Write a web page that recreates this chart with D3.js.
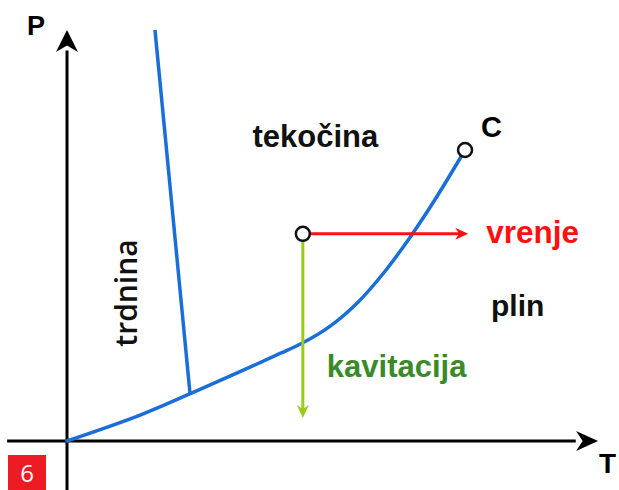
<!DOCTYPE html>
<html>
<head>
<meta charset="utf-8">
<script src="https://cdn.jsdelivr.net/npm/d3@7"></script>
<style>
  html, body { margin: 0; padding: 0; background: #fff; }
  svg { display: block; }
  .bold { font-family: "Liberation Sans", Arial, sans-serif; font-weight: bold; }
</style>
</head>
<body>
<svg width="619" height="490"></svg>
<script>
// phase diagram data, T and P in arbitrary units (0..100)
const vaporCurve = [
  {t: 0, p: 0}, {t: 13.8, p: 6.3}, {t: 23.6, p: 11.7}, {t: 32.0, p: 16.5},
  {t: 40.2, p: 21.3}, {t: 44.5, p: 23.9}, {t: 49.6, p: 27.9}, {t: 55.0, p: 33.9},
  {t: 60.0, p: 41.3}, {t: 64.9, p: 49.9}, {t: 69.8, p: 59.5}, {t: 75.1, p: 70.8}
];
const meltingCurve = [{t: 23.2, p: 11.7}, {t: 16.6, p: 100}];
const criticalPoint = {t: 75.1, p: 70.8};
const statePoint = {t: 44.5, p: 50.4};
const boilingEnd = 75.7;     // T where red arrow ends
const cavitationEnd = 5.6;   // P where green arrow ends
const regionLabels = [
  {text: 'tekočina', t: 35, p: 71.5, size: 31},
  {text: 'plin', t: 80, p: 30.4, size: 30},
];

const svg = d3.select('svg');

const x = d3.scaleLinear().domain([0, 100]).range([67, 597]);
const y = d3.scaleLinear().domain([0, 100]).range([441, 30]);

/* axes: plain lines with arrow heads */
svg.append('line')
  .attr('x1', x(-11.3)).attr('y1', y(0))
  .attr('x2', x(96)).attr('y2', y(0))
  .attr('stroke', '#000').attr('stroke-width', 3);
svg.append('line')
  .attr('x1', x(0)).attr('y1', y(-12))
  .attr('x2', x(0)).attr('y2', y(95))
  .attr('stroke', '#000').attr('stroke-width', 3);

function arrowHead(tipX, tipY, dir, len, half, color) {
  // dir: 'right' | 'up' | 'down'
  let pts;
  if (dir === 'right') {
    pts = [[tipX, tipY], [tipX - len, tipY - half], [tipX - len * 0.7, tipY], [tipX - len, tipY + half]];
  } else if (dir === 'up') {
    pts = [[tipX, tipY], [tipX - half, tipY + len], [tipX, tipY + len * 0.7], [tipX + half, tipY + len]];
  } else {
    pts = [[tipX, tipY], [tipX - half, tipY - len], [tipX, tipY - len * 0.7], [tipX + half, tipY - len]];
  }
  svg.append('path')
    .attr('d', 'M' + pts.map(p => p.join(',')).join('L') + 'Z')
    .attr('fill', color);
}
arrowHead(x(100.2), y(0), 'right', 22, 10, '#000');
arrowHead(x(0), y(100), 'up', 22, 11, '#000');

/* phase boundaries */
const line = d3.line().x(d => x(d.t)).y(d => y(d.p));
svg.append('path')
  .datum(meltingCurve)
  .attr('d', line)
  .attr('fill', 'none').attr('stroke', '#1a6ed8').attr('stroke-width', 3.5);
svg.append('path')
  .datum(vaporCurve)
  .attr('d', line.curve(d3.curveCatmullRom))
  .attr('fill', 'none').attr('stroke', '#1a6ed8').attr('stroke-width', 3.5)
  .attr('stroke-linecap', 'round');

/* boiling (red) and cavitation (green) arrows */
svg.append('line')
  .attr('x1', x(statePoint.t)).attr('y1', y(statePoint.p))
  .attr('x2', x(boilingEnd) - 8).attr('y2', y(statePoint.p))
  .attr('stroke', '#ff1010').attr('stroke-width', 3);
arrowHead(x(boilingEnd), y(statePoint.p), 'right', 13, 6, '#ff1010');

svg.append('line')
  .attr('x1', x(statePoint.t)).attr('y1', y(statePoint.p))
  .attr('x2', x(statePoint.t)).attr('y2', y(cavitationEnd) - 8)
  .attr('stroke', '#99cc1a').attr('stroke-width', 3);
arrowHead(x(statePoint.t), y(cavitationEnd), 'down', 13, 6, '#99cc1a');

/* points */
[criticalPoint, statePoint].forEach(d => {
  svg.append('circle')
    .attr('cx', x(d.t)).attr('cy', y(d.p)).attr('r', 7)
    .attr('fill', '#fff').attr('stroke', '#111').attr('stroke-width', 2.5);
});

/* labels */
svg.append('text').attr('class', 'bold')
  .attr('x', 27).attr('y', 35).attr('font-size', 27).text('P');
svg.append('text').attr('class', 'bold')
  .attr('x', 599).attr('y', 473).attr('font-size', 28).text('T');
svg.append('text').attr('class', 'bold')
  .attr('x', x(criticalPoint.t) + 16).attr('y', y(criticalPoint.p) - 13)
  .attr('font-size', 29).text('C');

svg.selectAll('.region')
  .data(regionLabels)
  .enter()
  .append('text')
  .attr('class', 'bold')
  .attr('x', d => x(d.t)).attr('y', d => y(d.p))
  .attr('font-size', d => d.size)
  .attr('fill', '#111')
  .text(d => d.text);

svg.append('text').attr('class', 'bold')
  .attr('x', x(boilingEnd) + 18).attr('y', y(statePoint.p) + 9)
  .attr('font-size', 31.5).attr('fill', '#ff1010').text('vrenje');

svg.append('text').attr('class', 'bold')
  .attr('x', x(statePoint.t) + 24).attr('y', 377)
  .attr('font-size', 31).attr('fill', '#3a8a28').text('kavitacija');

svg.append('text')
  .attr('transform', 'translate(137,293) rotate(-90)')
  .attr('text-anchor', 'middle')
  .attr('font-family', '"Open Sans", sans-serif')
  .attr('font-weight', 600)
  .attr('font-size', 30)
  .attr('fill', '#111')
  .text('trdnina');

/* page number badge */
svg.append('rect')
  .attr('x', 8).attr('y', 455).attr('width', 38).attr('height', 35)
  .attr('fill', '#ed1c24');
svg.append('text')
  .attr('x', 27).attr('y', 482)
  .attr('text-anchor', 'middle')
  .attr('font-family', '"Open Sans", sans-serif')
  .attr('font-size', 24)
  .attr('fill', '#fff')
  .text('6');
</script>
</body>
</html>
